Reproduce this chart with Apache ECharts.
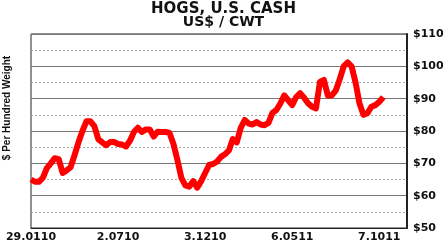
<!DOCTYPE html>
<html>
<head>
<meta charset="utf-8">
<script src="https://cdn.jsdelivr.net/npm/echarts@6/dist/echarts.min.js"></script>
<style>html,body{margin:0;padding:0;background:#fff}#c{width:447px;height:252px}</style>
</head>
<body>
<div id="c"></div>
<script>
// Weekly categories starting 29 Jan 2010 (label format D.MMYY)
var startDate = [2010, 0, 29];
var weekCount = 96;
var labelEvery = 22; // labels at 29.0110, 2.0710, 3.1210, 6.0511, 7.1011

// Weekly cash hog price, US$ / cwt
var prices = [
  65, 64.3, 64.3, 65.5, 68.5, 70, 71.6, 71.3, 67, 67.8,
  68.8, 72.5, 76.5, 80, 83, 83, 81.5, 77.5, 76.5, 75.6,
  76.6, 76.6, 76, 75.8, 75.2, 77, 79.7, 81, 79.7, 80.5,
  80.5, 78.3, 79.8, 79.7, 79.7, 79.4, 76, 71, 65.5, 63.2,
  62.8, 64.5, 62.5, 64.5, 67, 69.5, 69.8, 70.5, 72, 72.8,
  74, 77.5, 76.5, 81, 83.4, 82.3, 82, 82.8, 82, 81.8,
  82.5, 85.6, 86.5, 88.5, 91, 89.5, 88, 90.5, 91.7, 90.3,
  88.6, 87.5, 87, 95.2, 95.8, 91, 91, 92.5, 96, 100,
  101.2, 100, 95, 88.5, 85, 85.5, 87.5, 88, 89, 90.5
];

var yMin = 50, yMax = 110, yStep = 10;
var titleText = 'HOGS, U.S. CASH';
var subtitleText = 'US$ / CWT';
var yAxisTitle = '$ Per Hundred Weight';

var categories = [];
(function () {
  var d = new Date(startDate[0], startDate[1], startDate[2]);
  for (var i = 0; i < weekCount; i++) {
    var mm = ('0' + (d.getMonth() + 1)).slice(-2);
    var yy = ('0' + (d.getFullYear() % 100)).slice(-2);
    categories.push(d.getDate() + '.' + mm + yy);
    d.setDate(d.getDate() + 7);
  }
})();

var chart = echarts.init(document.getElementById('c'), null, {renderer: 'canvas'});
var boldFont = '"DejaVu Sans", sans-serif';
chart.setOption({
  animation: false,
  backgroundColor: '#fff',
  title: [
    {text: titleText, left: 'center', top: -3,
     textStyle: {fontFamily: boldFont, fontWeight: 'bold', fontSize: 15, color: '#111'}},
    {text: subtitleText, left: 'center', top: 10,
     textStyle: {fontFamily: boldFont, fontWeight: 'bold', fontSize: 14, color: '#111'}}
  ],
  graphic: [{
    type: 'text', x: 7, y: 108, rotation: Math.PI / 2,
    style: {text: yAxisTitle, textAlign: 'center', textVerticalAlign: 'middle',
      font: 'bold 10px "Liberation Sans Narrow", "Liberation Sans", sans-serif', fill: '#111'}
  }],
  grid: {left: 31, right: 40, top: 34, bottom: 24, show: true, borderColor: '#222', borderWidth: 1},
  xAxis: {
    type: 'category', data: categories, boundaryGap: false,
    axisLine: {show: true, lineStyle: {color: '#222', width: 1}},
    axisTick: {show: false},
    splitLine: {show: false},
    axisLabel: {interval: function (idx) { return idx % labelEvery === 0; },
      fontFamily: boldFont, fontWeight: 'bold', fontSize: 11,
      color: '#111', margin: 4, hideOverlap: false}
  },
  yAxis: {
    type: 'value', position: 'right', min: yMin, max: yMax, interval: yStep,
    axisLine: {show: true, lineStyle: {color: '#222', width: 2}},
    axisTick: {show: false},
    axisLabel: {formatter: function (v) { return '$' + v; }, fontFamily: boldFont, fontWeight: 'bold',
      fontSize: 11, color: '#111', margin: 6},
    splitLine: {show: true, lineStyle: {color: '#777', width: 1}},
    minorTick: {show: false, splitNumber: 2},
    minorSplitLine: {show: true, lineStyle: {color: '#aaa', width: 1, type: [2, 2]}}
  },
  series: [{
    type: 'line', data: prices, symbol: 'none', smooth: false,
    lineStyle: {color: '#ff0000', width: 6, join: 'round'},
    itemStyle: {color: '#ff0000'}
  }]
});
</script>
</body>
</html>
